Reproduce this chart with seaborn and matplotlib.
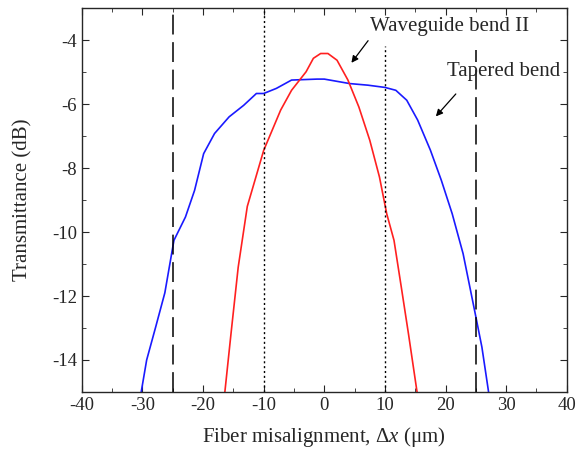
import matplotlib
matplotlib.use("Agg")
import matplotlib.pyplot as plt
from matplotlib.ticker import MultipleLocator
import pandas as pd
import seaborn as sns

sns.set_style("ticks")
plt.rcParams['font.family'] = ['Liberation Serif', 'DejaVu Serif']
plt.rcParams['axes.unicode_minus'] = False
plt.rcParams['mathtext.fontset'] = 'custom'
plt.rcParams['mathtext.rm'] = 'Liberation Serif'
plt.rcParams['mathtext.it'] = 'Liberation Serif:italic'

# tapered bend (blue)
taper_x = [-30.2, -29.3, -27.8, -26.3, -24.8, -22.9, -21.4, -19.9, -18.1, -15.7,
           -13.3, -11.2, -10.0, -7.9, -5.4, -1.2, 0.0, 4.2, 7.2, 10.0,
           11.8, 13.6, 15.4, 17.5, 19.3, 21.1, 22.9, 24.8, 26.0, 27.1]
taper_y = [-15.0, -14.0, -12.96, -11.9, -10.26, -9.53, -8.7, -7.55, -6.92, -6.4,
           -6.04, -5.67, -5.67, -5.51, -5.25, -5.22, -5.22, -5.36, -5.41, -5.48,
           -5.57, -5.88, -6.5, -7.44, -8.38, -9.43, -10.68, -12.46, -13.6, -15.0]

# waveguide bend II (red)
wg_x = [-16.4, -15.4, -14.2, -12.7, -10.0, -7.2, -5.4, -3.0, -1.8, -0.6,
        0.6, 2.1, 3.9, 5.7, 7.5, 9.1, 10.3, 11.5, 12.7, 13.9, 15.3]
wg_y = [-15.0, -13.2, -11.1, -9.2, -7.45, -6.19, -5.57, -4.99, -4.57, -4.42,
        -4.42, -4.63, -5.25, -6.09, -7.13, -8.28, -9.43, -10.26, -11.72, -13.2, -15.0]

dashed_x = [-25, 25]
dotted_x = [-10, 10]

df_taper = pd.DataFrame({'x': taper_x, 'y': taper_y})
df_wg = pd.DataFrame({'x': wg_x, 'y': wg_y})

fig = plt.figure(figsize=(5.76, 4.49), dpi=100)
ax = fig.add_axes([0.142, 0.127, 0.842, 0.855])

sns.lineplot(data=df_taper, x='x', y='y', color='#1a1aff', linewidth=1.2, sort=False, ax=ax)
sns.lineplot(data=df_wg, x='x', y='y', color='#ff2020', linewidth=1.2, sort=False, ax=ax)

# left guide lines run to the top, right ones stop under the labels
ax.axvline(dashed_x[0], color='black', linestyle=(0, (13, 5)), linewidth=1.1)
ax.axvline(dashed_x[1], color='black', linestyle=(0, (13, 5)), linewidth=1.1, ymax=(15 - 4.3) / 12)
ax.axvline(dotted_x[0], color='black', linestyle=(0, (1.5, 2)), linewidth=1.0)
ax.axvline(dotted_x[1], color='black', linestyle=(0, (1.5, 2)), linewidth=1.0, ymax=(15 - 4.2) / 12)

ax.set_xlim(-40, 40)
ax.set_ylim(-15, -3)
ax.xaxis.set_major_locator(MultipleLocator(10))
ax.xaxis.set_minor_locator(MultipleLocator(5))
ax.yaxis.set_major_locator(MultipleLocator(2))
ax.yaxis.set_minor_locator(MultipleLocator(1))
ax.tick_params(which='both', direction='in', top=True, right=True, labelsize=13.5)
ax.tick_params(which='major', length=5)
ax.tick_params(which='minor', length=3)
for s in ax.spines.values():
    s.set_linewidth(1.0)

ax.set_xlabel(r'Fiber misalignment, $\Delta x$ (μm)', fontsize=15, labelpad=8)
ax.set_ylabel('Transmittance (dB)', fontsize=15, labelpad=14)

ax.text(7.5, -3.58, 'Waveguide bend II', fontsize=15, va='center', ha='left')
ax.annotate('', xy=(4.2, -4.78), xytext=(7.5, -3.95),
            arrowprops=dict(arrowstyle='-|>', color='black', lw=0.9, mutation_scale=10))
ax.text(20.2, -4.99, 'Tapered bend', fontsize=15, va='center', ha='left')
ax.annotate('', xy=(18.1, -6.45), xytext=(22.0, -5.62),
            arrowprops=dict(arrowstyle='-|>', color='black', lw=0.9, mutation_scale=10))

fig.savefig('out.png', dpi=100)
